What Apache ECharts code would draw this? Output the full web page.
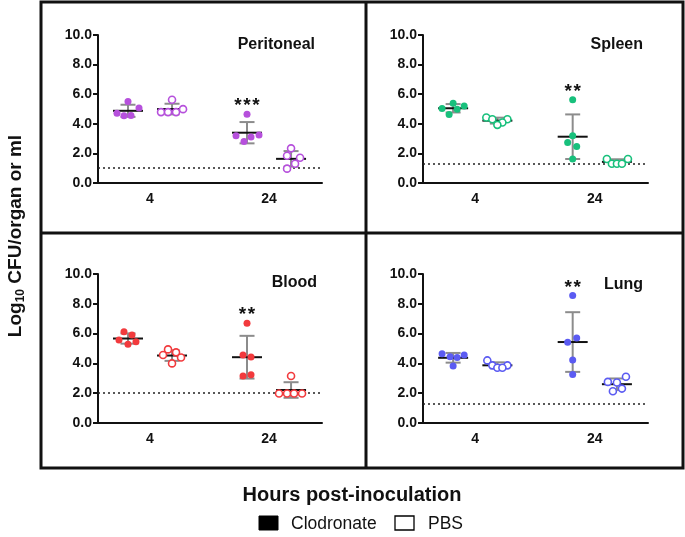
<!DOCTYPE html>
<html>
<head>
<meta charset="utf-8">
<script src="https://cdn.jsdelivr.net/npm/echarts@6/dist/echarts.min.js"></script>
<style>html,body{margin:0;padding:0;background:#fff;}#c{width:685px;height:537px;}</style>
</head>
<body>
<div id="c"></div>
<script>
// ---- data ----
const timepoints = ['4', '24'];
const organs = ['Peritoneal', 'Spleen', 'Blood', 'Lung'];
const detectionLimit = [1.0, 1.3, 2.0, 1.3];
const significance = ['***', '**', '**', '**'];
const yTicks = [0, 2, 4, 6, 8, 10];

// values per timepoint [4 h, 24 h], Log10 CFU
const peritonealClodronate = [[5.51, 5.06, 4.72, 4.54, 4.56], [4.65, 3.19, 3.24, 3.10, 2.81]];
const peritonealPBS        = [[5.62, 4.99, 4.79, 4.79, 4.79], [2.34, 1.84, 1.71, 1.30, 0.97]];
const spleenClodronate     = [[5.39, 5.21, 5.03, 4.99, 4.63], [5.62, 3.19, 2.74, 2.47, 1.62]];
const spleenPBS            = [[4.43, 4.31, 4.31, 4.09, 3.93], [1.62, 1.62, 1.30, 1.30, 1.30]];
const bloodClodronate      = [[6.13, 5.91, 5.57, 5.46, 5.28], [6.70, 4.56, 4.43, 3.15, 3.24]];
const bloodPBS             = [[4.94, 4.74, 4.56, 4.40, 4.00], [3.15, 1.98, 1.98, 1.98, 1.98]];
const lungClodronate       = [[4.65, 4.56, 4.45, 4.40, 3.82], [8.56, 5.71, 5.42, 4.22, 3.26]];
const lungPBS              = [[4.20, 3.87, 3.87, 3.71, 3.71], [3.10, 2.76, 2.72, 2.31, 2.13]];

// ---- styling / layout (not data) ----
const colors = ['#b650dc', '#18c07c', '#f23a3d', '#5b5bf2'];
const clodSets = [peritonealClodronate, spleenClodronate, bloodClodronate, lungClodronate];
const pbsSets = [peritonealPBS, spleenPBS, bloodPBS, lungPBS];
// horizontal scatter jitter in px for each point
const jitterClod = [
  [[0, 11, -11, -4, 3], [0, -11, 12, 4, -3]],
  [[0, 11, -11, 4, -4], [0, 0, -5, 4, 0]],
  [[-4, 4, -9, 8, 0], [0, -4, 4, -4, 4]],
  [[-11, 11, -3, 4, 0], [0, 4, -5, 0, 0]]
];
const jitterPBS = [
  [[0, 11, -11, -4, 4], [0, -4, 9, 4, -4]],
  [[-11, -5, 10, 5, 0], [-10, 11, -5, 0, 5]],
  [[-4, 4, -9, 9, 0], [0, -12, -4, 3, 11]],
  [[-10, -5, 10, 0, 5], [9, -9, 0, 5, -4]]
];
const grids = [
  {left: 98, top: 35, width: 224, height: 148},
  {left: 423, top: 35, width: 225, height: 148},
  {left: 98, top: 274, width: 224, height: 149},
  {left: 423, top: 274, width: 225, height: 149}
];
const titlePos = [[315, 45], [643, 45], [317, 283], [643, 285]];
const PX_PER_UNIT = 119;
const GROUP_OFF = 0.185;
const FONT = '"Liberation Sans", Arial, Helvetica, sans-serif';

function mean(a) { return a.reduce((s, v) => s + v, 0) / a.length; }
function sd(a) { const m = mean(a); return Math.sqrt(a.reduce((s, v) => s + (v - m) * (v - m), 0) / (a.length - 1)); }

const chart = echarts.init(document.getElementById('c'), null, {renderer: 'canvas'});

const xAxes = [], yAxes = [], series = [];
organs.forEach((organ, i) => {
  xAxes.push({
    type: 'value', gridIndex: i, min: -0.437, max: 1.445,
    axisLine: {show: true, onZero: false, lineStyle: {color: '#111', width: 2}},
    axisTick: {show: false},
    splitLine: {show: false},
    axisLabel: {
      show: true, customValues: [0, 1], margin: 9,
      formatter: v => timepoints[Math.round(v)],
      color: '#111', fontWeight: 'bold', fontSize: 14, fontFamily: FONT
    }
  });
  yAxes.push({
    type: 'value', gridIndex: i, min: 0, max: 10, interval: 2,
    axisLine: {show: true, onZero: false, lineStyle: {color: '#111', width: 2}},
    axisTick: {show: true, length: 5, lineStyle: {color: '#111', width: 2}},
    splitLine: {show: false},
    axisLabel: {
      margin: 6, formatter: v => v.toFixed(1),
      color: '#111', fontWeight: 'bold', fontSize: 14, fontFamily: FONT
    }
  });

  const stats = [];
  const clodPts = [], pbsPts = [];
  timepoints.forEach((t, ti) => {
    const c = clodSets[i][ti], p = pbsSets[i][ti];
    stats.push([ti - GROUP_OFF, mean(c), sd(c)]);
    stats.push([ti + GROUP_OFF, mean(p), sd(p)]);
    const maxIdx = c.indexOf(Math.max(...c));
    c.forEach((v, k) => {
      const item = {value: [ti - GROUP_OFF + jitterClod[i][ti][k] / PX_PER_UNIT, v]};
      if (ti === 1 && k === maxIdx) {
        item.label = {
          show: true, position: 'top', distance: 0, offset: [0, 5],
          formatter: significance[i].split('').join('\u200A'),
          color: '#111', fontSize: 19, fontWeight: 'bold', fontFamily: FONT
        };
      }
      clodPts.push(item);
    });
    p.forEach((v, k) => {
      pbsPts.push([ti + GROUP_OFF + jitterPBS[i][ti][k] / PX_PER_UNIT, v]);
    });
  });

  series.push({
    type: 'custom', xAxisIndex: i, yAxisIndex: i, z: 2,
    data: stats,
    encode: {x: 0, y: 1},
    renderItem: function (params, api) {
      const x = api.value(0), m = api.value(1), s = api.value(2);
      const top = api.coord([x, m + s]), bot = api.coord([x, m - s]), mid = api.coord([x, m]);
      const cap = 7.5, half = 15;
      const grey = '#8c8c8c';
      return {
        type: 'group', children: [
          {type: 'line', shape: {x1: top[0], y1: top[1], x2: bot[0], y2: bot[1]}, style: {stroke: grey, lineWidth: 2}},
          {type: 'line', shape: {x1: top[0] - cap, y1: top[1], x2: top[0] + cap, y2: top[1]}, style: {stroke: grey, lineWidth: 2}},
          {type: 'line', shape: {x1: bot[0] - cap, y1: bot[1], x2: bot[0] + cap, y2: bot[1]}, style: {stroke: grey, lineWidth: 2}},
          {type: 'line', shape: {x1: mid[0] - half, y1: mid[1], x2: mid[0] + half, y2: mid[1]}, style: {stroke: '#111', lineWidth: 2}}
        ]
      };
    },
    markLine: {
      silent: true, symbol: 'none', label: {show: false},
      lineStyle: {color: '#222', type: [2, 3], width: 1.5},
      data: [{yAxis: detectionLimit[i]}]
    }
  });
  series.push({
    name: 'Clodronate', type: 'scatter', xAxisIndex: i, yAxisIndex: i, z: 5,
    symbol: 'circle', symbolSize: 7,
    itemStyle: {color: colors[i], opacity: 1},
    data: clodPts
  });
  series.push({
    name: 'PBS', type: 'scatter', xAxisIndex: i, yAxisIndex: i, z: 5,
    symbol: 'circle', symbolSize: 7,
    itemStyle: {color: '#fff', borderColor: colors[i], borderWidth: 1.6, opacity: 1},
    data: pbsPts
  });
});

const graphic = [
  // frame
  {type: 'rect', shape: {x: 41, y: 2, width: 642, height: 466}, style: {fill: 'none', stroke: '#111', lineWidth: 3}},
  {type: 'line', shape: {x1: 366, y1: 2, x2: 366, y2: 468}, style: {stroke: '#111', lineWidth: 3}},
  {type: 'line', shape: {x1: 41, y1: 233, x2: 683, y2: 233}, style: {stroke: '#111', lineWidth: 3}},
  // y axis title
  {
    type: 'text', x: 16, y: 236, rotation: Math.PI / 2,
    style: {
      text: '{a|Log}{b|10}{a| CFU/organ or ml}',
      align: 'center', verticalAlign: 'middle', fill: '#111',
      rich: {
        a: {fontSize: 19, fontWeight: 'bold', fontFamily: FONT, fill: '#111'},
        b: {fontSize: 12, fontWeight: 'bold', fontFamily: FONT, fill: '#111', padding: [9, 0, 0, 0]}
      }
    }
  },
  // x axis title
  {
    type: 'text', x: 352, y: 495,
    style: {text: 'Hours post-inoculation', align: 'center', verticalAlign: 'middle', fontSize: 20, fontWeight: 'bold', fontFamily: FONT, fill: '#111'}
  },
  // legend
  {type: 'rect', shape: {x: 259, y: 516, width: 19, height: 14}, style: {fill: '#000', stroke: '#000', lineWidth: 1}},
  {type: 'text', x: 291, y: 524, style: {text: 'Clodronate', align: 'left', verticalAlign: 'middle', fontSize: 17.5, fontFamily: FONT, fill: '#111'}},
  {type: 'rect', shape: {x: 395, y: 516, width: 19, height: 14}, style: {fill: '#fff', stroke: '#000', lineWidth: 1.3}},
  {type: 'text', x: 428, y: 524, style: {text: 'PBS', align: 'left', verticalAlign: 'middle', fontSize: 17.5, fontFamily: FONT, fill: '#111'}}
];
organs.forEach((organ, i) => {
  graphic.push({
    type: 'text', x: titlePos[i][0], y: titlePos[i][1],
    style: {text: organ, align: 'right', verticalAlign: 'middle', fontSize: 16, fontWeight: 'bold', fontFamily: FONT, fill: '#111'}
  });
});

chart.setOption({
  animation: false,
  backgroundColor: '#fff',
  grid: grids.map(g => Object.assign({containLabel: false}, g)),
  xAxis: xAxes,
  yAxis: yAxes,
  series: series,
  graphic: graphic
});
</script>
</body>
</html>
